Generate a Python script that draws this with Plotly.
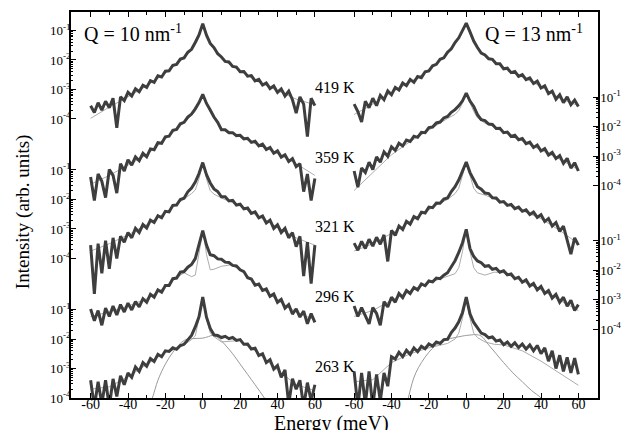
import numpy as np
import plotly.graph_objects as go

FONT = "Liberation Serif, Times New Roman, serif"

# Energy grids (meV)
E_DATA = list(range(-60, 61, 2))
E_FIT = [-60, -50, -40, -30, -20, -15, -10, -6, -4, -2, -1, 0, 1, 2, 4, 6, 10, 15, 20, 30, 40, 50, 60]

TEMPS = ["419 K", "359 K", "321 K", "296 K", "263 K"]
# vertical shift of each spectrum (decades)
OFFSETS = [9.46, 7.095, 4.73, 2.365, 0.0]
LEFT_TICK_OFFSETS = [9.46, 4.73, 0.0]
RIGHT_TICK_OFFSETS = [7.2, 2.33]
TICK_EXPONENTS = [-1, -2, -3, -4]

# ---- measured spectra, log10 intensity (arb. units), Q = 10 nm^-1 ----
q10_419 = [-3.55, -3.78, -3.45, -3.70, -3.40, -3.62, -3.30, -4.30, -3.25, -3.38,
           -3.10, -3.22, -2.98, -3.08, -2.86, -2.93, -2.70, -2.76, -2.54, -2.58,
           -2.38, -2.37, -2.18, -2.15, -1.97, -1.93, -1.74, -1.64, -1.41, -1.15,
           -0.77,
           -1.16, -1.44, -1.58, -1.79, -1.90, -2.05, -2.07, -2.22, -2.24, -2.40,
           -2.39, -2.55, -2.53, -2.71, -2.66, -2.85, -2.78, -2.97, -2.88, -3.10,
           -2.98, -3.22, -3.06, -3.35, -3.80, -3.25, -3.50, -4.60, -3.30, -3.55]
q10_359 = [-3.60, -4.40, -3.50, -3.75, -4.30, -3.35, -3.55, -4.15, -3.15, -3.40,
           -3.02, -3.20, -2.92, -3.05, -2.80, -2.92, -2.65, -2.68, -2.44, -2.46,
           -2.24, -2.22, -2.02, -1.99, -1.80, -1.75, -1.57, -1.47, -1.29, -1.08,
           -0.80,
           -1.11, -1.33, -1.57, -1.75, -2.00, -2.00, -2.10, -2.10, -2.20, -2.19,
           -2.31, -2.29, -2.43, -2.39, -2.55, -2.49, -2.67, -2.60, -2.80, -2.72,
           -2.93, -2.85, -3.08, -2.98, -3.25, -3.15, -4.10, -3.50, -4.40, -3.65]
q10_321 = [-3.55, -5.20, -3.50, -4.50, -3.40, -4.35, -3.30, -4.00, -3.25, -3.45,
           -3.12, -3.30, -2.98, -3.12, -2.85, -2.97, -2.70, -2.78, -2.55, -2.62,
           -2.40, -2.42, -2.20, -2.19, -2.00, -1.96, -1.74, -1.61, -1.41, -1.12,
           -0.75,
           -1.16, -1.44, -1.64, -1.73, -1.91, -1.91, -2.05, -2.03, -2.19, -2.16,
           -2.32, -2.29, -2.47, -2.42, -2.62, -2.56, -2.80, -2.70, -2.98, -2.86,
           -3.12, -2.98, -3.30, -3.12, -3.60, -3.25, -4.60, -3.45, -4.85, -3.55]
q10_296 = [-3.35, -3.75, -3.40, -3.90, -3.32, -3.60, -3.25, -3.55, -3.20, -3.45,
           -3.15, -3.38, -3.10, -3.28, -3.00, -3.12, -2.85, -2.95, -2.70, -2.78,
           -2.55, -2.55, -2.32, -2.30, -2.10, -2.08, -1.93, -1.84, -1.64, -1.20,
           -0.69,
           -1.18, -1.51, -1.54, -1.65, -1.66, -1.76, -1.77, -1.87, -1.89, -2.02,
           -2.08, -2.29, -2.33, -2.54, -2.50, -2.72, -2.67, -2.92, -2.84, -3.12,
           -3.02, -3.32, -3.20, -3.52, -3.34, -3.62, -3.42, -3.85, -3.50, -3.80]
q10_263 = [-3.40, -4.30, -3.45, -4.20, -3.40, -4.30, -3.35, -3.95, -3.25, -3.55,
           -3.15, -3.30, -2.95, -3.10, -2.80, -2.92, -2.66, -2.76, -2.52, -2.60,
           -2.40, -2.42, -2.30, -2.35, -2.22, -2.18, -2.03, -1.88, -1.59, -1.25,
           -0.58,
           -1.26, -1.64, -1.86, -1.88, -1.95, -1.91, -1.99, -1.95, -2.05, -2.02,
           -2.18, -2.17, -2.34, -2.31, -2.56, -2.50, -2.80, -2.70, -3.02, -2.90,
           -3.30, -3.05, -4.20, -3.35, -3.70, -3.40, -4.30, -3.48, -4.10, -3.55]

# ---- measured spectra, Q = 13 nm^-1 ----
q13_419 = [-3.50, -3.75, -4.10, -3.40, -3.62, -3.30, -3.55, -3.20, -3.35, -3.05,
           -3.18, -2.93, -3.02, -2.78, -2.87, -2.66, -2.76, -2.56, -2.60, -2.40,
           -2.37, -2.20, -2.15, -1.98, -1.93, -1.74, -1.62, -1.41, -1.25, -1.00,
           -0.75,
           -1.05, -1.36, -1.58, -1.77, -1.83, -1.96, -1.98, -2.13, -2.13, -2.30,
           -2.28, -2.43, -2.39, -2.56, -2.50, -2.67, -2.61, -2.80, -2.72, -2.95,
           -2.88, -3.14, -3.06, -3.33, -3.18, -3.45, -3.25, -3.52, -3.36, -3.58]
q13_359 = [-3.40, -3.95, -3.30, -3.45, -3.10, -3.35, -2.92, -3.10, -2.75, -2.90,
           -2.58, -2.70, -2.46, -2.55, -2.35, -2.40, -2.22, -2.26, -2.09, -2.10,
           -1.93, -1.91, -1.77, -1.74, -1.60, -1.55, -1.41, -1.32, -1.19, -1.02,
           -0.76,
           -1.03, -1.21, -1.49, -1.66, -1.69, -1.81, -1.82, -1.96, -1.95, -2.10,
           -2.08, -2.23, -2.19, -2.34, -2.30, -2.47, -2.42, -2.60, -2.52, -2.72,
           -2.64, -2.86, -2.77, -2.98, -2.88, -3.14, -2.97, -3.30, -3.12, -3.40]
q13_321 = [-3.48, -3.72, -3.42, -3.66, -3.35, -3.58, -3.28, -3.52, -3.20, -4.10,
           -3.05, -3.22, -2.90, -3.02, -2.74, -2.84, -2.58, -2.65, -2.43, -2.46,
           -2.26, -2.28, -2.12, -2.13, -1.99, -1.95, -1.73, -1.57, -1.34, -1.05,
           -0.73,
           -1.09, -1.35, -1.57, -1.65, -1.78, -1.80, -1.94, -1.95, -2.09, -2.07,
           -2.20, -2.17, -2.31, -2.26, -2.40, -2.35, -2.51, -2.43, -2.61, -2.52,
           -2.75, -2.65, -2.90, -2.78, -3.08, -2.90, -3.35, -3.85, -3.30, -3.55]
q13_296 = [-3.25, -3.60, -3.30, -3.55, -3.85, -3.30, -3.50, -3.90, -3.10, -3.28,
           -2.95, -3.12, -2.82, -2.96, -2.72, -2.82, -2.62, -2.70, -2.50, -2.56,
           -2.40, -2.43, -2.30, -2.32, -2.20, -2.12, -1.90, -1.71, -1.43, -1.10,
           -0.65,
           -1.30, -1.57, -1.72, -1.78, -1.90, -1.88, -2.00, -1.97, -2.10, -2.05,
           -2.19, -2.16, -2.32, -2.27, -2.44, -2.36, -2.57, -2.48, -2.70, -2.58,
           -2.82, -2.72, -2.98, -2.85, -3.12, -2.95, -3.25, -3.05, -3.40, -3.20]
q13_263 = [-3.10, -4.30, -3.15, -4.20, -3.10, -4.30, -3.20, -4.10, -3.15, -3.60,
           -2.60, -2.68, -2.45, -2.60, -2.38, -2.52, -2.30, -2.43, -2.25, -2.33,
           -2.17, -2.24, -2.10, -2.15, -2.02, -2.01, -1.78, -1.63, -1.42, -1.10,
           -0.58,
           -1.15, -1.44, -1.60, -1.80, -1.85, -1.96, -1.93, -2.07, -2.03, -2.19,
           -2.10, -2.25, -2.13, -2.29, -2.17, -2.34, -2.20, -2.40, -2.22, -2.50,
           -2.30, -2.75, -2.40, -3.00, -2.55, -3.10, -2.62, -3.15, -2.65, -3.20]

# ---- fitted curves (log10) on E_FIT ----
fit_q10_419 = [-3.98, -3.60, -3.25, -2.88, -2.45, -2.20, -1.93, -1.66, -1.46, -1.18, -0.95, -0.77,
               -0.95, -1.18, -1.46, -1.64, -1.95, -2.17, -2.38, -2.75, -3.05, -3.33, -3.52]
fit_q10_359 = [-3.85, -3.55, -3.20, -2.85, -2.32, -2.02, -1.75, -1.52, -1.38, -1.12, -0.95, -0.80,
               -0.97, -1.14, -1.40, -1.60, -1.98, -2.10, -2.24, -2.50, -2.80, -3.15, -3.55]
fit_q10_321 = [-3.75, -3.50, -3.20, -2.85, -2.45, -2.20, -1.98, -1.80, -1.68, -1.30, -1.00, -0.78,
               -1.00, -1.30, -1.70, -1.82, -1.95, -2.08, -2.22, -2.58, -2.95, -3.30, -3.55]
fit_q10_296 = [-3.60, -3.45, -3.25, -3.00, -2.60, -2.33, -2.12, -2.25, -2.20, -1.50, -1.05, -0.72,
               -1.05, -1.50, -2.02, -2.00, -1.90, -1.85, -2.00, -2.58, -3.05, -3.45, -3.72]
fit_q10_263 = [-3.70, -3.62, -3.28, -2.85, -2.45, -2.35, -2.20, -2.02, -1.90, -1.30, -0.95, -0.62,
               -0.95, -1.30, -1.80, -1.92, -2.10, -2.08, -2.05, -2.50, -3.05, -3.55, -3.75]
fit_q13_419 = [-3.85, -3.50, -3.10, -2.75, -2.35, -2.08, -1.80, -1.45, -1.27, -1.02, -0.88, -0.75,
               -0.90, -1.07, -1.37, -1.60, -1.87, -2.06, -2.27, -2.58, -2.90, -3.30, -3.55]
fit_q13_359 = [-4.06, -3.45, -2.85, -2.40, -2.00, -1.82, -1.62, -1.48, -1.35, -1.10, -0.92, -0.78,
               -0.93, -1.10, -1.38, -1.60, -1.78, -1.90, -2.08, -2.38, -2.68, -3.00, -3.35]
fit_q13_321 = [-3.75, -3.50, -3.15, -2.75, -2.33, -2.15, -2.00, -1.80, -1.62, -1.20, -0.95, -0.75,
               -0.97, -1.22, -1.62, -1.78, -1.85, -1.98, -2.12, -2.38, -2.65, -3.05, -3.50]
fit_q13_296 = [-3.60, -3.40, -3.05, -2.75, -2.45, -2.35, -2.25, -2.15, -1.95, -1.40, -1.00, -0.68,
               -1.00, -1.40, -1.95, -2.12, -2.20, -2.10, -2.12, -2.40, -2.70, -3.05, -3.40]
fit_q13_263 = [-3.45, -3.38, -2.80, -2.50, -2.30, -2.22, -2.15, -2.00, -1.80, -1.30, -0.95, -0.62,
               -0.95, -1.30, -1.80, -1.95, -2.10, -2.18, -2.20, -2.40, -2.75, -3.15, -3.57]

# ---- broad inelastic component at 263 K ----
E_BROAD_Q10 = [-30, -27, -24, -20, -16, -12, -9, -6, -3, 0, 3, 5, 8, 12, 16, 20, 24, 28, 33, 36]
broad_q10 = [-4.40, -4.00, -3.40, -2.85, -2.45, -2.15, -2.02, -1.99, -1.98, -1.97,
             -1.92, -1.88, -1.95, -2.20, -2.50, -2.85, -3.20, -3.55, -4.00, -4.30]
E_BROAD_Q13 = [-33, -31, -29, -27, -24, -20, -16, -11, -6, -2, 0, 3, 5, 8, 12, 16, 20, 25, 30, 35, 40, 43]
broad_q13 = [-4.40, -4.00, -3.50, -3.15, -2.80, -2.45, -2.20, -2.03, -1.95, -1.90, -1.88,
             -1.86, -1.85, -1.90, -2.20, -2.50, -2.80, -3.15, -3.45, -3.75, -4.00, -4.30]

panels = [
    ("x", "y", [q10_419, q10_359, q10_321, q10_296, q10_263],
     [fit_q10_419, fit_q10_359, fit_q10_321, fit_q10_296, fit_q10_263], E_BROAD_Q10, broad_q10),
    ("x2", "y2", [q13_419, q13_359, q13_321, q13_296, q13_263],
     [fit_q13_419, fit_q13_359, fit_q13_321, fit_q13_296, fit_q13_263], E_BROAD_Q13, broad_q13),
]

DATA_COLOR = "#3e3e3e"
FIT_COLOR = "#acacac"

fig = go.Figure()
for xa, ya, datas, fits, eb, bv in panels:
    # fitted curves and the broad component under the measured data
    for vals, off in zip(fits, OFFSETS):
        fig.add_trace(go.Scatter(x=E_FIT, y=10 ** (np.array(vals) + off), mode="lines",
                                 line=dict(color=FIT_COLOR, width=1), xaxis=xa, yaxis=ya,
                                 hoverinfo="skip"))
    fig.add_trace(go.Scatter(x=eb, y=10 ** (np.array(bv) + OFFSETS[-1]), mode="lines",
                             line=dict(color="#9a9a9a", width=1, shape="spline"),
                             xaxis=xa, yaxis=ya, hoverinfo="skip"))
    for vals, off in zip(datas, OFFSETS):
        fig.add_trace(go.Scatter(x=E_DATA, y=10 ** (np.array(vals) + off), mode="lines",
                                 line=dict(color=DATA_COLOR, width=3.0), xaxis=xa, yaxis=ya,
                                 hoverinfo="skip"))


def sup(e):
    return "10<sup>%d</sup>" % e


def ticks_for(offsets):
    vals, text, minor = [], [], []
    for off in offsets:
        for e in TICK_EXPONENTS:
            vals.append(10 ** (e + off))
            text.append(sup(e))
        for e in TICK_EXPONENTS[1:]:
            for m in range(2, 10):
                minor.append(m * 10 ** (e + off))
    return vals, text, minor


lv, lt, lm = ticks_for(LEFT_TICK_OFFSETS)
rv, rt, rm = ticks_for(RIGHT_TICK_OFFSETS)

YRANGE = [-4, 9.085]
X_TICKS = [-60, -40, -20, 0, 20, 40, 60]
X_MINOR = [-70, -50, -30, -10, 10, 30, 50, 70]

xcommon = dict(range=[-70.5, 70.5], tickmode="array", tickvals=X_TICKS,
               ticktext=[str(v) if v >= 0 else "-" + str(-v) for v in X_TICKS],
               ticks="inside", ticklen=5, tickwidth=1, tickcolor="black",
               showline=True, linecolor="black", linewidth=1.5, mirror="ticks",
               showgrid=False, zeroline=False, automargin=False, ticklabelstandoff=-8,
               tickfont=dict(family=FONT, size=14, color="black"),
               minor=dict(tickmode="array", tickvals=X_MINOR, ticks="inside", ticklen=3,
                          tickcolor="black", showgrid=False))
ycommon = dict(type="log", range=YRANGE, tickmode="array", ticks="inside", ticklen=5,
               tickwidth=1, tickcolor="black", showline=True, linecolor="black", linewidth=1.5,
               showgrid=False, zeroline=False, automargin=False,
               tickfont=dict(family=FONT, size=13, color="black"))

fig.update_layout(
    width=626, height=430,
    margin=dict(l=71, r=28, t=12, b=32),
    plot_bgcolor="white", paper_bgcolor="white",
    showlegend=False,
    font=dict(family=FONT, color="black"),
    xaxis=dict(domain=[0, 0.5], anchor="y", **xcommon),
    xaxis2=dict(domain=[0.5, 1], anchor="y2", **xcommon),
    yaxis=dict(anchor="x", side="left", tickvals=lv, ticktext=lt, ticklabelstandoff=-4,
               minor=dict(tickmode="array", tickvals=lm, ticks="inside", ticklen=2.5,
                          tickcolor="black", showgrid=False), **ycommon),
    yaxis2=dict(anchor="x2", side="right", tickvals=rv, ticktext=rt, ticklabelstandoff=-2,
                minor=dict(tickmode="array", tickvals=rm, ticks="inside", ticklen=2.5,
                           tickcolor="black", showgrid=False), **ycommon),
)

LABEL_LEVEL = -2.93
annotations = []
for name, off in zip(TEMPS, OFFSETS):
    annotations.append(dict(text=name, x=0.5, xref="paper", y=LABEL_LEVEL + off, yref="y",
                            showarrow=False, font=dict(family=FONT, size=16, color="black"),
                            xanchor="center", yanchor="middle"))
annotations += [
    dict(text="Q = 10 nm<sup>-1</sup>", x=(82 - 71) / 527, xref="paper", y=(397.7 - 33) / 385.7,
         yref="paper", xanchor="left", yanchor="middle", showarrow=False,
         font=dict(family=FONT, size=20, color="black")),
    dict(text="Q = 13 nm<sup>-1</sup>", x=(585 - 71) / 527, xref="paper", y=(397.7 - 33) / 385.7,
         yref="paper", xanchor="right", yanchor="middle", showarrow=False,
         font=dict(family=FONT, size=20, color="black")),
    dict(text="Energy (meV)", x=(331 - 71) / 527, xref="paper", y=(397.7 - 423) / 385.7,
         yref="paper", xanchor="center", yanchor="middle", showarrow=False,
         font=dict(family=FONT, size=20, color="black")),
    dict(text="Intensity (arb. units)", x=(23 - 71) / 527, xref="paper", y=(397.7 - 212) / 385.7,
         yref="paper", xanchor="center", yanchor="middle", showarrow=False, textangle=-90,
         font=dict(family=FONT, size=19, color="black")),
]
fig.update_layout(annotations=annotations)

fig.write_html("out.html", config={"displayModeBar": False},
               post_script="document.body.style.margin='0';document.body.style.overflow='hidden';")
